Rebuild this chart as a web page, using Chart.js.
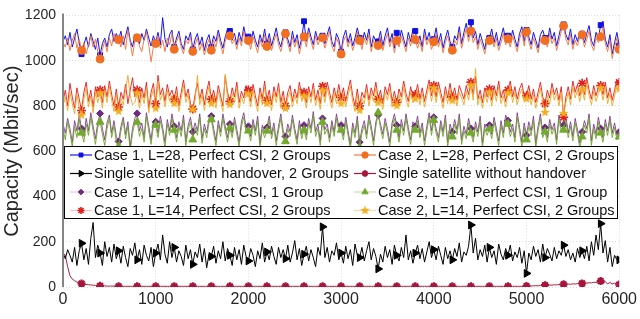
<!DOCTYPE html>
<html>
<head>
<meta charset="utf-8">
<script src="https://cdn.jsdelivr.net/npm/chart.js@4/dist/chart.umd.min.js"></script>
<style>
  html, body { margin: 0; padding: 0; background: #fff; }
  #wrap { width: 640px; height: 319px; }
</style>
</head>
<body>
<div id="wrap"><canvas id="capChart" width="640" height="319"></canvas></div>
<script>
// samples every 25 time units, 0..6000 (241 points); markers every 200
const sampleStep = 25;

const case1L28 = [
  1085, 1110, 1070, 1125, 1060, 1100, 1140, 1080,
  1029, 1070, 1105, 1060, 1120, 1085, 1050, 1100,
  1024, 1075, 1100, 1060, 1115, 1140, 1085, 1120,
  1095, 1130, 1070, 1110, 1150, 1090, 1060, 1115,
  1105, 1075, 1120, 1090, 1140, 1100, 1065, 1110,
  1080, 1125, 1070, 1190, 1095, 1060, 1115, 1135,
  1060, 1100, 1130, 1075, 1050, 1110, 1090, 1125,
  1050, 1095, 1120, 1070, 1105, 1045, 1090, 1115,
  1060, 1110, 1085, 1135, 1090, 1055, 1105, 1140,
  1131, 1090, 1120, 1070, 1125, 1085, 1150, 1100,
  1106, 1075, 1130, 1090, 1060, 1115, 1080, 1140,
  1075, 1120, 1065, 1105, 1145, 1090, 1060, 1110,
  1125, 1095, 1060, 1130, 1080, 1115, 1055, 1100,
  1174, 1085, 1145, 1105, 1070, 1130, 1090, 1120,
  1110, 1075, 1115, 1150, 1085, 1060, 1120, 1095,
  1040, 1105, 1135, 1080, 1120, 1065, 1100, 1145,
  1100, 1070, 1125, 1090, 1140, 1060, 1110, 1085,
  1085, 1130, 1065, 1110, 1145, 1080, 1120, 1055,
  1123, 1080, 1135, 1095, 1060, 1125, 1085, 1140,
  1131, 1075, 1110, 1060, 1140, 1090, 1125, 1070,
  1095, 1145, 1080, 1120, 1055, 1100, 1135, 1085,
  1060, 1110, 1090, 1150, 1075, 1125, 1165, 1105,
  1170, 1100, 1130, 1070, 1120, 1085, 1050, 1110,
  1100, 1140, 1080, 1125, 1065, 1105, 1145, 1090,
  1110, 1080, 1135, 1095, 1060, 1120, 1150, 1085,
  1135, 1105, 1070, 1125, 1090, 1055, 1115, 1135,
  1100, 1080, 1145, 1095, 1125, 1065, 1110, 1155,
  1160, 1115, 1090, 1140, 1070, 1115, 1085, 1130,
  1119, 1080, 1120, 1155, 1090, 1065, 1125, 1100,
  1157, 1175, 1095, 1060, 1115, 1030, 1080, 1125,
  1067
];

const case2L28 = [
  1080, 1060, 1100, 1045, 1090, 1120, 1055, 1095,
  1045, 1080, 1030, 1070, 1110, 1060, 1095, 1040,
  1007, 1050, 1085, 1040, 1100, 1065, 1120, 1075,
  1093, 1060, 1110, 1050, 1135, 1080, 1020, 1090,
  1101, 1065, 1040, 1095, 1125, 1070, 995, 1060,
  1076, 1110, 1055, 1090, 1040, 1100, 1070, 1120,
  1050, 1085, 1110, 1060, 1030, 1090, 1075, 1105,
  1041, 1070, 1100, 1045, 1080, 1025, 1065, 1095,
  1046, 1090, 1060, 1115, 1070, 1030, 1085, 1120,
  1110, 1075, 1095, 1050, 1100, 1065, 1130, 1080,
  1089, 1050, 1105, 1070, 1035, 1095, 1060, 1115,
  1063, 1100, 1045, 1085, 1120, 1070, 1040, 1090,
  1119, 1075, 1040, 1105, 1060, 1095, 1030, 1080,
  1106, 1060, 1125, 1085, 1050, 1110, 1070, 1095,
  1101, 1055, 1090, 1130, 1065, 1040, 1100, 1075,
  1029, 1085, 1110, 1060, 1095, 1045, 1080, 1125,
  1089, 1050, 1100, 1070, 1115, 1040, 1090, 1060,
  1067, 1105, 1045, 1085, 1120, 1060, 1095, 1035,
  1089, 1060, 1110, 1075, 1040, 1100, 1065, 1120,
  1093, 1055, 1085, 1040, 1115, 1070, 1100, 1050,
  1084, 1120, 1060, 1095, 1035, 1080, 1110, 1065,
  1046, 1090, 1070, 1125, 1055, 1100, 1140, 1085,
  1131, 1080, 1105, 1050, 1095, 1065, 1030, 1085,
  1089, 1115, 1060, 1100, 1045, 1080, 1120, 1070,
  1097, 1060, 1110, 1075, 1040, 1095, 1130, 1065,
  1127, 1085, 1050, 1100, 1070, 1035, 1090, 1110,
  1089, 1060, 1120, 1075, 1100, 1045, 1085, 1130,
  1153, 1095, 1070, 1115, 1050, 1090, 1065, 1105,
  1114, 1060, 1095, 1130, 1070, 1045, 1100, 1080,
  1106, 1150, 1075, 1040, 1090, 1010, 1060, 1100,
  1050
];

const singleWithHandover = [
  150, 125, 165, 140, 110, 175, 95, 160,
  193, 120, 170, 100, 215, 285, 130, 185,
  150, 95, 200, 135, 175, 110, 190, 125,
  160, 105, 180, 130, 90, 170, 140, 195,
  120, 165, 100, 185, 140, 115, 175, 90,
  150, 190, 120, 230, 145, 105, 200, 130,
  175, 110, 160, 135, 95, 185, 125, 165,
  100, 155, 130, 190, 110, 170, 85, 145,
  135, 180, 105, 160, 125, 200, 115, 170,
  140, 95, 175, 120, 165, 100, 185, 135,
  115, 170, 140, 90, 160, 125, 195, 110,
  155, 120, 180, 135, 100, 175, 130, 165,
  125, 185, 110, 150, 205, 120, 170, 95,
  145, 180, 115, 165, 130, 90, 175, 140,
  266, 130, 175, 110, 160, 140, 195, 120,
  150, 105, 180, 125, 165, 95, 190, 140,
  130, 175, 115, 160, 200, 120, 170, 135,
  80, 145, 110, 180, 130, 165, 100, 185,
  140, 115, 175, 130, 230, 120, 160, 105,
  150, 185, 125, 170, 110, 155, 200, 130,
  165, 120, 180, 140, 100, 175, 125, 160,
  120, 170, 135, 195, 110, 155, 140, 180,
  274, 150, 215, 120, 165, 135, 185, 110,
  175, 130, 160, 100, 190, 145, 120, 170,
  140, 185, 115, 155, 130, 175, 105, 160,
  60, 150, 120, 180, 135, 165, 110, 190,
  130, 170, 145, 115, 175, 125, 160, 140,
  185, 135, 165, 120, 150, 110, 170, 130,
  160, 125, 180, 115, 200, 140, 230, 165,
  280, 150, 205, 110, 175, 90, 140, 120,
  120
];

const singleWithoutHandover = [
  150, 140, 90, 50, 35, 28, 22, 18,
  15, 13, 11, 10, 9, 8, 7, 6,
  5, 5, 5, 4, 4, 4, 4, 4,
  3, 3, 3, 3, 3, 3, 3, 3,
  3, 3, 3, 3, 3, 3, 3, 3,
  3, 3, 3, 3, 3, 3, 3, 3,
  3, 3, 3, 3, 3, 3, 3, 3,
  3, 3, 3, 3, 3, 3, 3, 3,
  3, 3, 3, 3, 3, 3, 3, 3,
  3, 3, 3, 3, 3, 3, 3, 3,
  3, 3, 3, 3, 3, 3, 3, 3,
  3, 3, 3, 3, 3, 3, 3, 3,
  3, 3, 3, 3, 3, 3, 3, 3,
  3, 3, 3, 3, 3, 3, 3, 3,
  3, 3, 3, 3, 3, 3, 3, 3,
  3, 3, 3, 3, 3, 3, 3, 3,
  3, 3, 3, 3, 3, 3, 3, 3,
  3, 3, 3, 3, 3, 3, 3, 3,
  3, 3, 3, 3, 3, 3, 3, 3,
  3, 3, 3, 3, 3, 3, 3, 3,
  3, 3, 3, 3, 3, 3, 3, 3,
  3, 3, 3, 3, 3, 3, 3, 3,
  3, 3, 3, 3, 3, 3, 3, 3,
  3, 3, 3, 3, 3, 3, 3, 3,
  3, 3, 3, 3, 3, 3, 3, 3,
  4, 4, 5, 5, 6, 5, 7, 6,
  8, 8, 9, 8, 10, 9, 11, 10,
  12, 12, 13, 12, 14, 13, 15, 16,
  16, 18, 17, 19, 18, 21, 20, 23,
  26, 19, 23, 14, 20, 13, 17, 12,
  11
];

const case1L14G1 = [
  720, 680, 745, 700, 640, 735, 690, 760,
  700, 665, 745, 690, 770, 710, 655, 725,
  767, 700, 650, 725, 760, 680, 735, 665,
  643, 710, 750, 675, 730, 620, 700, 745,
  767, 690, 725, 660, 770, 710, 650, 735,
  730, 680, 755, 705, 640, 740, 690, 765,
  710, 660, 730, 690, 760, 645, 715, 750,
  686, 725, 690, 765, 655, 720, 680, 745,
  755, 700, 645, 735, 685, 765, 710, 660,
  720, 680, 750, 695, 640, 730, 770, 705,
  710, 665, 740, 690, 755, 635, 715, 680,
  705, 755, 675, 725, 645, 710, 765, 690,
  665, 720, 685, 760, 700, 650, 735, 675,
  715, 670, 745, 700, 775, 685, 720, 645,
  745, 695, 720, 660, 735, 685, 765, 710,
  715, 670, 750, 690, 630, 725, 680, 755,
  640, 700, 735, 675, 760, 710, 645, 730,
  760, 720, 675, 745, 700, 640, 725, 765,
  715, 660, 740, 690, 765, 705, 650, 730,
  710, 755, 680, 725, 645, 710, 770, 690,
  750, 700, 660, 735, 685, 760, 640, 720,
  685, 740, 695, 765, 650, 710, 675, 745,
  700, 660, 730, 685, 755, 635, 720, 690,
  715, 675, 750, 700, 645, 735, 680, 760,
  735, 685, 720, 660, 770, 705, 640, 725,
  670, 730, 690, 755, 635, 710, 765, 680,
  705, 660, 740, 695, 725, 650, 760, 710,
  715, 755, 680, 730, 665, 745, 695, 635,
  685, 735, 700, 765, 645, 720, 675, 750,
  700, 660, 740, 690, 755, 680, 725, 670,
  685
];

const case2L14G1 = [
  700, 650, 730, 680, 620, 710, 660, 740,
  681, 640, 720, 670, 750, 690, 630, 705,
  729, 675, 625, 700, 745, 660, 715, 640,
  621, 690, 735, 655, 710, 600, 680, 725,
  729, 665, 700, 640, 755, 690, 630, 710,
  716, 660, 735, 685, 615, 720, 670, 745,
  694, 640, 710, 665, 740, 625, 695, 730,
  651, 705, 670, 750, 635, 700, 660, 725,
  740, 680, 625, 715, 665, 745, 690, 640,
  703, 660, 730, 675, 620, 710, 750, 685,
  690, 645, 720, 670, 735, 615, 695, 660,
  690, 735, 655, 705, 625, 690, 745, 670,
  643, 700, 665, 740, 680, 630, 715, 655,
  694, 650, 725, 680, 760, 665, 700, 625,
  729, 675, 700, 640, 715, 665, 745, 690,
  694, 650, 730, 670, 610, 705, 660, 735,
  617, 680, 715, 655, 740, 690, 625, 710,
  771, 700, 655, 725, 680, 620, 705, 745,
  694, 640, 720, 670, 745, 685, 630, 710,
  694, 735, 660, 705, 625, 690, 750, 670,
  737, 680, 640, 715, 665, 740, 620, 700,
  664, 720, 675, 745, 630, 690, 655, 725,
  681, 640, 710, 665, 735, 615, 700, 670,
  699, 655, 730, 680, 625, 715, 660, 740,
  720, 665, 700, 640, 750, 685, 620, 705,
  651, 710, 670, 735, 615, 690, 745, 660,
  686, 640, 720, 675, 705, 630, 740, 690,
  694, 735, 660, 710, 645, 725, 675, 615,
  664, 715, 680, 745, 625, 700, 655, 730,
  681, 640, 720, 670, 735, 660, 705, 650,
  664
];

const case1L14G2 = [
  820, 870, 800, 900, 840, 790, 880, 830,
  780, 860, 905, 820, 870, 795, 885, 840,
  870, 815, 890, 840, 910, 850, 800, 875,
  795, 860, 830, 895, 810, 870, 925, 840,
  870, 815, 880, 835, 905, 790, 860, 900,
  810, 935, 850, 880, 820, 895, 845, 870,
  830, 885, 800, 860, 915, 840, 875, 810,
  786, 850, 900, 830, 875, 805, 865, 910,
  830, 870, 815, 890, 845, 800, 930, 860,
  820, 880, 840, 905, 815, 865, 835, 890,
  870, 820, 895, 845, 800, 880, 830, 910,
  825, 870, 805, 885, 840, 900, 815, 865,
  800, 860, 890, 820, 875, 835, 905, 845,
  860, 815, 885, 840, 900, 825, 870, 810,
  887, 840, 905, 860, 815, 880, 835, 895,
  836, 880, 820, 870, 915, 845, 800, 875,
  800, 860, 835, 895, 825, 880, 845, 905,
  830, 870, 810, 885, 850, 900, 820, 865,
  815, 875, 840, 910, 855, 820, 885, 840,
  850, 895, 830, 880, 820, 870, 915, 845,
  890, 840, 905, 860, 815, 885, 835, 900,
  840, 880, 825, 890, 860, 830, 890, 850,
  905, 850, 930, 830, 870, 815, 880, 840,
  875, 825, 890, 845, 910, 835, 870, 820,
  870, 910, 840, 885, 830, 875, 900, 845,
  845, 890, 830, 875, 815, 860, 905, 840,
  810, 870, 835, 900, 850, 880, 825, 885,
  750, 840, 885, 830, 910, 860, 895, 845,
  900, 850, 925, 870, 830, 890, 845, 880,
  890, 850, 905, 835, 880, 825, 870, 915,
  904
];

const case2L14G2 = [
  800, 840, 780, 860, 810, 765, 850, 795,
  759, 830, 880, 795, 845, 770, 860, 815,
  857, 790, 870, 815, 885, 825, 775, 850,
  776, 835, 805, 870, 935, 845, 805, 815,
  857, 790, 855, 810, 880, 770, 835, 875,
  789, 910, 825, 855, 795, 870, 820, 845,
  810, 860, 775, 835, 890, 815, 850, 785,
  784, 825, 935, 805, 850, 780, 840, 885,
  810, 845, 790, 865, 820, 775, 940, 835,
  806, 855, 815, 880, 790, 840, 810, 865,
  853, 795, 870, 820, 775, 855, 805, 885,
  810, 845, 780, 860, 815, 875, 790, 840,
  789, 835, 865, 795, 850, 810, 880, 820,
  844, 790, 860, 815, 875, 800, 845, 785,
  870, 815, 880, 835, 790, 855, 810, 870,
  810, 855, 795, 845, 890, 820, 775, 850,
  780, 835, 810, 870, 800, 855, 820, 880,
  814, 845, 785, 860, 825, 875, 795, 840,
  801, 850, 815, 885, 830, 795, 860, 815,
  831, 870, 805, 855, 795, 845, 890, 820,
  879, 815, 880, 835, 790, 860, 810, 875,
  823, 855, 800, 860, 835, 805, 865, 825,
  891, 825, 965, 805, 845, 790, 855, 815,
  861, 800, 865, 820, 885, 810, 845, 795,
  857, 885, 815, 860, 805, 850, 875, 820,
  831, 865, 805, 850, 790, 835, 880, 815,
  771, 845, 810, 875, 825, 855, 800, 860,
  767, 815, 860, 805, 885, 835, 870, 820,
  874, 825, 900, 845, 805, 865, 820, 855,
  879, 825, 880, 810, 855, 800, 845, 890,
  874
];

const xTicks = [0, 1000, 2000, 3000, 4000, 5000, 6000];
const yTicks = [0, 200, 400, 600, 800, 1000, 1200];

const FONT = '"Liberation Sans", Arial, sans-serif';

function toPoints(values) {
  return values.map((v, i) => ({ x: i * sampleStep, y: v }));
}

// five-pointed star marker (no built-in pentagram in Chart.js)
function makePentagram(size, fill) {
  const c = document.createElement('canvas');
  c.width = size; c.height = size;
  const g = c.getContext('2d');
  const cx = size / 2, cy = size / 2, R = size / 2 - 0.5, r = R * 0.42;
  g.beginPath();
  for (let k = 0; k < 10; k++) {
    const a = -Math.PI / 2 + k * Math.PI / 5;
    const rr = k % 2 === 0 ? R : r;
    g.lineTo(cx + rr * Math.cos(a), cy + rr * Math.sin(a));
  }
  g.closePath();
  g.fillStyle = fill;
  g.fill();
  return c;
}
const pentagram = makePentagram(11, '#f2ae1c');

function markerEvery(r) {
  return ctx => (ctx.dataIndex > 0 && ctx.dataIndex % 8 === 0) ? r : 0;
}

// dataset 0 is painted on top in Chart.js
const series = [
  { label: 'Case 2, L=28, Perfect CSI, 2 Groups', data: case2L28, line: 'rgba(240,118,66,0.95)', mark: '#f26f22', style: 'circle', r: 4, rot: 0, bw: 1, legendLine: '#f07a44' },
  { label: 'Case 1, L=28, Perfect CSI, 2 Groups', data: case1L28, line: '#1414f0', mark: '#1010e8', style: 'rect', r: 3.5, rot: 0, bw: 1, legendLine: '#1414f0' },
  { label: 'Case 2, L=14, Perfect CSI, 2 Groups', data: case2L14G2, line: 'rgba(240,168,40,0.92)', mark: pentagram, style: pentagram, r: 5, rot: 0, bw: 1, legendLine: 'rgba(240,168,40,0.4)' },
  { label: 'Case 1, L=14, Perfect CSI, 2 Groups', data: case1L14G2, line: 'rgba(228,28,28,0.9)', mark: '#e0201c', style: 'star', r: 4.5, rot: 0, bw: 1.6, legendLine: 'rgba(240,80,80,0.35)' },
  { label: 'Case 2, L=14, Perfect CSI, 1 Group', data: case2L14G1, line: 'rgba(112,166,44,0.92)', mark: '#72aa2c', style: 'triangle', r: 4.5, rot: 0, bw: 1, legendLine: 'rgba(112,170,44,0.4)' },
  { label: 'Case 1, L=14, Perfect CSI, 1 Group', data: case1L14G1, line: 'rgba(126,47,142,0.85)', mark: '#6e2a82', style: 'rectRot', r: 3.5, rot: 0, bw: 1, legendLine: 'rgba(190,120,210,0.4)' },
  { label: 'Single satellite with handover, 2 Groups', data: singleWithHandover, line: '#000000', mark: '#000000', style: 'triangle', r: 4.5, rot: 90, bw: 1, legendLine: '#000000' },
  { label: 'Single satellite without handover', data: singleWithoutHandover, line: '#b01e3c', mark: '#a8143a', style: 'star', r: 4, rot: 0, bw: 2.2, legendLine: '#a8143a' }
];

const datasets = series.map(s => ({
  label: s.label,
  data: toPoints(s.data),
  borderColor: s.line,
  borderWidth: 1,
  pointStyle: s.style,
  pointRotation: s.rot,
  pointRadius: markerEvery(s.r),
  pointBackgroundColor: s.mark,
  pointBorderColor: s.mark,
  pointBorderWidth: s.bw,
  tension: 0,
  fill: false
}));

// legend order as in the figure: two columns, row-wise
const legendOrder = [1, 0, 6, 7, 5, 4, 3, 2];

const boxedLegend = {
  id: 'boxedLegend',
  afterDatasetsDraw(chart) {
    const ctx = chart.ctx;
    const box = { l: 64, t: 146, r: 618, b: 219 };
    ctx.save();
    ctx.fillStyle = '#ffffff';
    ctx.fillRect(box.l, box.t, box.r - box.l, box.b - box.t);
    ctx.strokeStyle = '#000000';
    ctx.lineWidth = 1;
    ctx.strokeRect(box.l + 0.5, box.t + 0.5, box.r - box.l - 1, box.b - box.t - 1);

    const cols = [70, 354];
    const rows = [155, 173.5, 192, 210.5];
    ctx.font = '14.5px ' + FONT;
    ctx.textBaseline = 'middle';
    ctx.textAlign = 'left';
    legendOrder.forEach((idx, k) => {
      const s = series[idx];
      const x0 = cols[k % 2];
      const y = rows[Math.floor(k / 2)];
      ctx.strokeStyle = s.legendLine;
      ctx.lineWidth = 1.2;
      ctx.beginPath();
      ctx.moveTo(x0, y);
      ctx.lineTo(x0 + 22, y);
      ctx.stroke();
      ctx.fillStyle = typeof s.mark === 'string' ? s.mark : '#f2ae1c';
      ctx.strokeStyle = typeof s.mark === 'string' ? s.mark : '#f2ae1c';
      ctx.lineWidth = s.bw;
      Chart.helpers.drawPoint(ctx, { pointStyle: s.style, radius: s.r * 0.8, rotation: s.rot, borderWidth: s.bw }, x0 + 11, y);
      ctx.fillStyle = '#111111';
      ctx.fillText(s.label, x0 + 24, y + 0.5);
    });
    ctx.restore();
  },
  afterDraw(chart) {
    const { ctx, chartArea } = chart;
    ctx.save();
    ctx.strokeStyle = '#858585';
    ctx.lineWidth = 2;
    ctx.beginPath();
    ctx.moveTo(chartArea.left, chartArea.top - 2);
    ctx.lineTo(chartArea.left, chartArea.bottom);
    ctx.stroke();
    ctx.restore();
  }
};

new Chart(document.getElementById('capChart'), {
  type: 'line',
  data: { datasets: datasets },
  options: {
    responsive: false,
    animation: false,
    events: [],
    layout: { padding: { top: 7, right: 20, left: 0, bottom: 0 } },
    plugins: {
      legend: { display: false },
      tooltip: { enabled: false }
    },
    scales: {
      x: {
        type: 'linear',
        min: 0,
        max: 6000,
        afterBuildTicks: scale => { scale.ticks = xTicks.map(v => ({ value: v })); },
        ticks: { color: '#262626', font: { family: FONT, size: 16 }, padding: 3, maxRotation: 0, callback: v => String(v) },
        grid: { color: '#dcdcdc', drawTicks: false },
        border: { display: false, dash: [1, 2] },
        afterFit: scale => { scale.height = 32; }
      },
      y: {
        min: 0,
        max: 1200,
        afterBuildTicks: scale => { scale.ticks = yTicks.map(v => ({ value: v })); },
        ticks: { color: '#262626', font: { family: FONT, size: 14 }, padding: 7, callback: v => String(v) },
        grid: { color: '#dcdcdc', drawTicks: false },
        border: { display: false, dash: [1, 2] },
        title: { display: true, text: 'Capacity (Mbit/sec)', color: '#262626', font: { family: FONT, size: 20 }, padding: 0 },
        afterFit: scale => { scale.width = 63; }
      }
    }
  },
  plugins: [boxedLegend]
});
</script>
</body>
</html>
